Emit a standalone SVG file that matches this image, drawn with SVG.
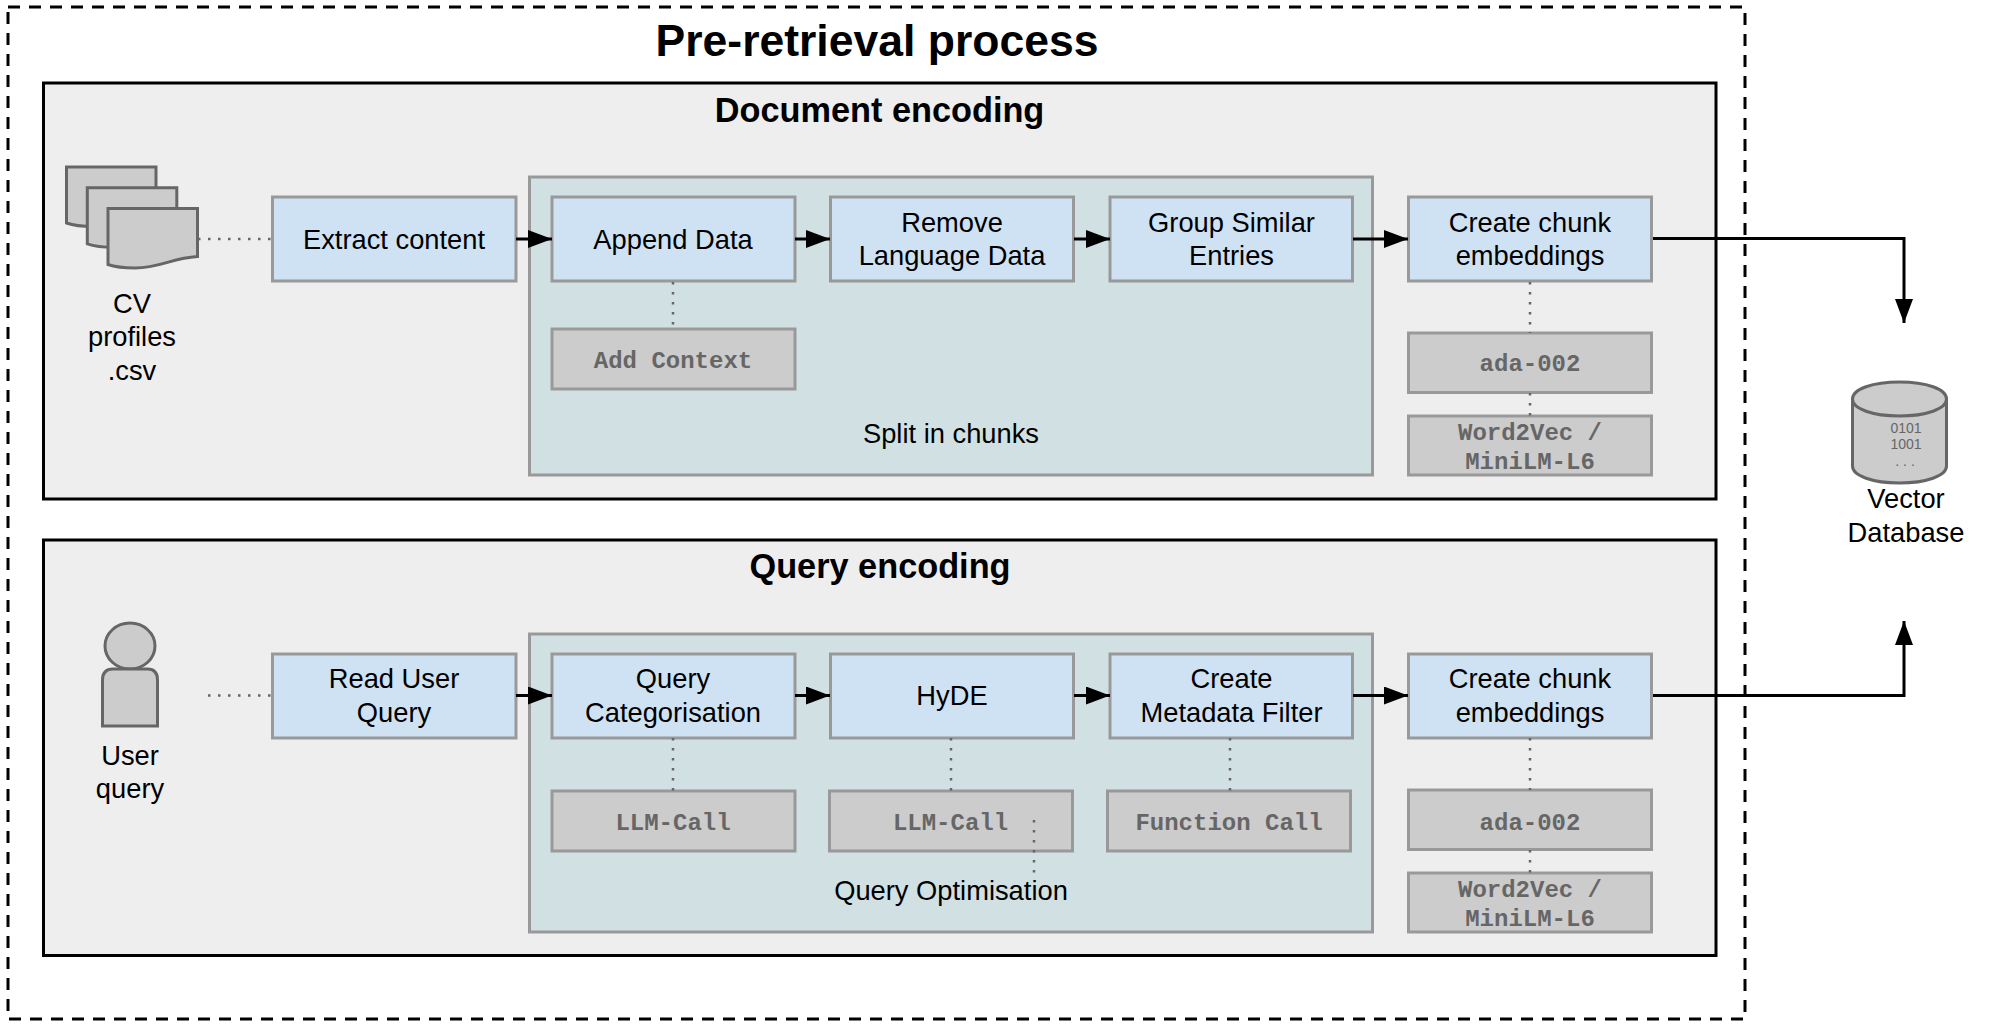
<svg xmlns="http://www.w3.org/2000/svg" width="1990" height="1026" viewBox="0 0 1990 1026">
<defs>
<marker id="ah" markerUnits="userSpaceOnUse" markerWidth="26" markerHeight="20" refX="24" refY="9" orient="auto"><path d="M0 0L24 9L0 18Z" fill="#000"/></marker>
<path id="sheet" d="M108 208.5H197.500V256.5C172 258 160 268 135 268C123 268 115 267 108 264.5Z"/>
</defs>
<style>
text{font-family:"Liberation Sans",Arial,sans-serif;font-size:27.300px;fill:#000;text-anchor:middle}
.t{font-weight:bold;font-size:44.500px}
.h{font-weight:bold;font-size:34.300px}
.m{font-family:"Liberation Mono","Courier New",monospace;font-weight:bold;font-size:24px;fill:#666}
.n{font-size:14px;fill:#666}
.d{font-size:14px;fill:#666;letter-spacing:4px}
.panel{fill:#eee;stroke:#000;stroke-width:3}
.green{fill:#d0e0e3;stroke:#999;stroke-width:3}
.blue{fill:#cfe2f3;stroke:#999;stroke-width:3}
.gray{fill:#ccc;stroke:#999;stroke-width:3}
.icon{fill:#ccc;stroke:#666;stroke-width:3}
.arrow{fill:none;stroke:#000;stroke-width:3;marker-end:url(#ah)}
.dot{fill:none;stroke:#666;stroke-width:2.5;stroke-dasharray:2.5 7.5}
</style>
<rect width="1990" height="1026" fill="#fff"/>
<g id="outer"><rect x="8" y="7" width="1737" height="1012" fill="none" stroke="#000" stroke-width="3" stroke-dasharray="12 9"/><text class="t" x="877" y="56">Pre-retrieval process</text></g>
<g id="document-encoding"><rect class="panel" x="43.500" y="83" width="1672.500" height="416"/><text class="h" x="879.500" y="121.500">Document encoding</text></g>
<g id="query-encoding"><rect class="panel" x="43.500" y="540" width="1672.500" height="415.500"/><text class="h" x="880" y="578">Query encoding</text></g>
<g id="split-in-chunks"><rect class="green" x="529.500" y="177" width="843" height="298"/><text x="951" y="443">Split in chunks</text></g>
<g id="query-optimisation"><rect class="green" x="529.500" y="634" width="843" height="298"/><text x="951" y="900">Query Optimisation</text></g>
<g id="cv-profiles"><use href="#sheet" class="icon" transform="translate(-41.500 -41.500)"/><use href="#sheet" class="icon" transform="translate(-20.700 -20.700)"/><use href="#sheet" class="icon"/><text x="132" y="313">CV</text><text x="132" y="346">profiles</text><text x="132" y="380">.csv</text></g>
<g id="extract"><rect class="blue" x="272.500" y="197" width="243.500" height="84"/><text x="394" y="249">Extract content</text></g>
<g id="append"><rect class="blue" x="552" y="197" width="243" height="84"/><text x="673" y="249">Append Data</text></g>
<g id="add-context"><rect class="gray" x="552" y="329" width="243" height="60"/><text class="m" x="673" y="368">Add Context</text></g>
<g id="remove"><rect class="blue" x="830.500" y="197" width="243" height="84"/><text x="952" y="232">Remove</text><text x="952" y="265">Language Data</text></g>
<g id="group"><rect class="blue" x="1110" y="197" width="242.500" height="84"/><text x="1231.500" y="232">Group Similar</text><text x="1231.500" y="265">Entries</text></g>
<g id="chunk-doc"><rect class="blue" x="1408.500" y="197" width="243" height="84"/><text x="1530" y="232">Create chunk</text><text x="1530" y="265">embeddings</text></g>
<g id="ada-doc"><rect class="gray" x="1408.500" y="333" width="243" height="59.500"/><text class="m" x="1530" y="371">ada-002</text></g>
<g id="w2v-doc"><rect class="gray" x="1408.500" y="416" width="243" height="59"/><text class="m" x="1530" y="440">Word2Vec /</text><text class="m" x="1530" y="469">MiniLM-L6</text></g>
<g id="vector-db"><path class="icon" d="M1852.500 399C1852.500 389 1873 382 1899.500 382C1926 382 1946.500 389 1946.500 399V466C1946.500 476 1926 483 1899.500 483C1873 483 1852.500 476 1852.500 466Z"/><path class="icon" d="M1852.500 399C1852.500 409 1873 416 1899.500 416C1926 416 1946.500 409 1946.500 399"/><text class="n" x="1906" y="433">0101</text><text class="n" x="1906" y="449">1001</text><text class="d" x="1907" y="466">...</text><text x="1906" y="508">Vector</text><text x="1906" y="542">Database</text></g>
<g id="user"><ellipse class="icon" cx="130" cy="646" rx="25" ry="23"/><path class="icon" d="M102.500 726V680Q102.500 669 113 669H147.500Q157.500 669 157.500 680V726Z"/><text x="130" y="765">User</text><text x="130" y="798">query</text></g>
<g id="read"><rect class="blue" x="272.500" y="654" width="243.500" height="84"/><text x="394" y="688">Read User</text><text x="394" y="722">Query</text></g>
<g id="categorise"><rect class="blue" x="552" y="654" width="243" height="84"/><text x="673" y="688">Query</text><text x="673" y="722">Categorisation</text></g>
<g id="llm-1"><rect class="gray" x="552" y="791" width="243" height="60"/><text class="m" x="673" y="830">LLM-Call</text></g>
<g id="hyde"><rect class="blue" x="830.500" y="654" width="243" height="84"/><text x="952" y="705">HyDE</text></g>
<g id="llm-2"><rect class="gray" x="829.500" y="791" width="243" height="60"/><text class="m" x="950.500" y="830">LLM-Call</text></g>
<g id="metadata"><rect class="blue" x="1110" y="654" width="242.500" height="84"/><text x="1231.500" y="688">Create</text><text x="1231.500" y="722">Metadata Filter</text></g>
<g id="function"><rect class="gray" x="1107.500" y="791" width="243" height="60"/><text class="m" x="1229" y="830">Function Call</text></g>
<g id="chunk-query"><rect class="blue" x="1408.500" y="654" width="243" height="84"/><text x="1530" y="688">Create chunk</text><text x="1530" y="722">embeddings</text></g>
<g id="ada-query"><rect class="gray" x="1408.500" y="790" width="243" height="59.500"/><text class="m" x="1530" y="830">ada-002</text></g>
<g id="w2v-query"><rect class="gray" x="1408.500" y="873" width="243" height="59"/><text class="m" x="1530" y="897">Word2Vec /</text><text class="m" x="1530" y="926">MiniLM-L6</text></g>
<g id="connectors">
<path class="arrow" d="M516 239H552"/><path class="arrow" d="M795 239H830"/><path class="arrow" d="M1074 239H1110"/><path class="arrow" d="M1353 239H1408"/>
<path class="arrow" d="M1653 238.500H1904V323"/>
<path class="arrow" d="M516 695.500H552"/><path class="arrow" d="M795 695.500H830"/><path class="arrow" d="M1074 695.500H1110"/><path class="arrow" d="M1353 695.500H1408"/>
<path class="arrow" d="M1653 695.500H1904V621"/>
<path class="dot" d="M198 239H272"/><path class="dot" d="M208 695.500H272"/>
<path class="dot" d="M673 282V329"/><path class="dot" d="M1530 282V333"/><path class="dot" d="M1530 393V416"/>
<path class="dot" d="M673 738V791"/><path class="dot" d="M951 738V791"/><path class="dot" d="M1230 738V791"/><path class="dot" d="M1034 820V873"/>
<path class="dot" d="M1530 738V790"/><path class="dot" d="M1530 850V873"/>
</g>
</svg>
